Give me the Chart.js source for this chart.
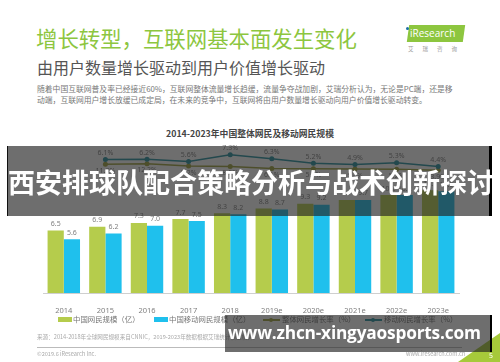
<!DOCTYPE html>
<html>
<head>
<meta charset="utf-8">
<script src="https://cdn.jsdelivr.net/npm/chart.js@4.4.1/dist/chart.umd.min.js"></script>
<style>
  html, body { margin: 0; padding: 0; background: #fff; }
  body { width: 500px; height: 362px; position: relative; overflow: hidden;
         font-family: "Noto Sans CJK SC", "Noto Sans", sans-serif; }
  .abs { position: absolute; white-space: nowrap; }
  #title { left: 36px; top: 25px; font-size: 21.4px; color: #8dc63f; line-height: 26px; }
  #subtitle { left: 37px; top: 57px; font-size: 16px; color: #555; line-height: 20px; }
  .body { left: 37px; font-size: 7.8px; color: #777; line-height: 10px; }
  #logo { left: 408px; top: 25px; width: 56px; height: 17px; background: #8dc63f;
          transform: skewX(-8deg); }
  #logoText { left: 410px; top: 27px; font-family: "Open Sans", sans-serif; font-size: 10px;
              color: #fff; line-height: 13px; }
  #logoDot { left: 406px; top: 27px; width: 3px; height: 3px; border-radius: 2px; background: #1b6fa8; }
  #logoSub { left: 408px; top: 45px; font-size: 5.5px; color: #999; letter-spacing: 9px; }
  #chartTitle { left: 0; width: 500px; top: 127px; text-align: center; font-size: 8.8px;
                font-weight: bold; color: #444; }
  #chartBox { position: absolute; left: 0; top: 133px; width: 500px; height: 182px; }
  .leg { top: 314px; font-size: 7.4px; color: #777; line-height: 10px; }
  .sw { position: absolute; width: 14px; height: 5px; top: 317px; }
  .ln { position: absolute; width: 17px; height: 1.5px; top: 319px; }
  .dot { position: absolute; width: 4px; height: 4px; border-radius: 2px; top: 318px; }
  #source { left: 37px; top: 333px; font-size: 5.6px; color: #aaa; }
  #rule { position: absolute; left: 37px; top: 347px; width: 425px; height: 1px; background: #bbb; }
  #copy { left: 37px; top: 350px; font-size: 5.6px; color: #aaa; }
  #site { left: 406px; top: 350px; font-size: 5.6px; color: #aaa; }
  #band { position: absolute; left: 7px; top: 146px; width: 481px; height: 70px;
          background: rgba(35,35,35,0.66); border-left: 1px solid #111; border-right: 3px solid #000; }
  #bandText { position: absolute; left: 0; width: 485px; top: 19px; text-align: center;
              font-size: 27px; font-weight: bold; color: #fff; line-height: 34px; white-space: nowrap; }
  #url { position: absolute; left: 225px; top: 315px; width: 265px; height: 37px;
         background: rgba(35,35,35,0.66); border-right: 2px solid #000; }
  #urlText { position: absolute; left: 3px; top: 6px; font-family: "Open Sans", sans-serif; white-space: nowrap;
             font-size: 17.3px; font-weight: bold; color: #fff; line-height: 24px; letter-spacing: -0.2px; }
  #tri { position: absolute; left: 458px; top: 333px; width: 0; height: 0;
         border-left: 42px solid transparent; border-bottom: 29px solid #a6c93a; }
  #pg { left: 489px; top: 350px; font-size: 7px; color: #fff; }
</style>
</head>
<body>
<div id="title" class="abs">增长转型，互联网基本面发生变化</div>
<div id="subtitle" class="abs">由用户数量增长驱动到用户价值增长驱动</div>
<div class="abs body" style="top:84px">随着中国互联网普及率已经接近60%，互联网整体流量增长趋缓，流量争夺战加剧，艾瑞分析认为，无论是PC端，还是移</div>
<div class="abs body" style="top:95px">动端，互联网用户增长放缓已成定局，在未来的竞争中，互联网将由用户数量增长驱动向用户价值增长驱动转变。</div>
<div id="logo" class="abs"></div>
<div id="logoDot" class="abs"></div>
<div id="logoText" class="abs">iResearch</div>
<div id="logoSub" class="abs">艾瑞咨询</div>

<div id="chartTitle" class="abs">2014-2023年中国整体网民及移动网民规模</div>
<div id="chartBox"><canvas id="chart"></canvas></div>

<div class="sw" style="left:58px;background:#b5cc4c"></div>
<div class="abs leg" style="left:73px">中国网民规模（亿）</div>
<div class="sw" style="left:154px;background:#1fc0ed"></div>
<div class="abs leg" style="left:169px">中国移动网民规模（亿）</div>
<div class="ln" style="left:263px;background:#9fa23c"></div>
<div class="dot" style="left:269px;background:#9fa23c"></div>
<div class="abs leg" style="left:282px">整体网民增长率（%）</div>
<div class="ln" style="left:365px;background:#23909f"></div>
<div class="dot" style="left:371px;background:#23909f"></div>
<div class="abs leg" style="left:384px">移动网民增长率（%）</div>

<div id="source" class="abs">来源：2014-2018年全球网民规模来自CNNIC，2019-2023年数据根据艾瑞统计模型核算。</div>
<div id="rule"></div>
<div id="copy" class="abs">©2019.6 iResearch Inc.</div>
<div id="site" class="abs">www.iresearch.com.cn</div>
<div id="tri"></div>
<div id="pg" class="abs">5</div>

<div id="band"><div id="bandText">西安排球队配合策略分析与战术创新探讨</div></div>
<div id="url"><div id="urlText">www.zhcn-xingyaosports.com</div></div>

<script>
// categories and values
const years = ['2014', '2015', '2016', '2017', '2018', '2019e', '2020e', '2021e', '2022e', '2023e'];
const netUsers = [6.5, 6.9, 7.3, 7.7, 8.3, 8.8, 9.3, 9.7, 10.2, 10.7];
const mobileUsers = [5.6, 6.2, 7.0, 7.5, 8.2, 8.7, 9.2, 9.7, 10.2, 10.6];
// growth rates (%), no value for the first year
const tealRates = [null, 6.1, 6.2, 5.6, 7.3, 6.3, 5.2, 4.9, 5.3, 4.4];
const oliveRates = [null, 11.3, 12.2, 9.2, 8.5, 6.1, 5.7, 5.4, 5.2, 3.9];

const greenBar = '#b5cc4c';
const blueBar = '#1fc0ed';
const olive = '#9fa23c';
const teal = '#23909f';

// draws value labels above bars and next to line points
const valueLabels = {
  id: 'valueLabels',
  afterDatasetsDraw(chart) {
    const ctx = chart.ctx;
    ctx.save();
    ctx.font = '7px "Noto Sans", sans-serif';
    ctx.fillStyle = '#808080';
    ctx.textAlign = 'center';
    chart.data.datasets.forEach((ds, i) => {
      const meta = chart.getDatasetMeta(i);
      meta.data.forEach((el, j) => {
        const v = ds.data[j];
        if (v == null) return;
        if (ds.type === 'line') {
          const txt = v.toFixed(1) + '%';
          if (ds.labelPos === 'below') {
            ctx.textBaseline = 'top';
            ctx.fillText(txt, el.x, el.y + 3);
          } else {
            ctx.textBaseline = 'bottom';
            ctx.fillText(txt, el.x, el.y - 3);
          }
        } else {
          ctx.textBaseline = 'bottom';
          ctx.fillText(v.toFixed(1), el.x, el.y - 3);
        }
      });
    });
    ctx.restore();
  }
};

new Chart(document.getElementById('chart'), {
  type: 'bar',
  data: {
    labels: years,
    datasets: [
      {
        type: 'line', label: '移动网民增长率（%）', data: tealRates, yAxisID: 'y2',
        borderColor: teal, backgroundColor: teal, borderWidth: 1.5,
        pointRadius: 2.5, pointBackgroundColor: teal, pointBorderWidth: 0,
        labelPos: 'above', order: 0, clip: false
      },
      {
        type: 'line', label: '整体网民增长率（%）', data: oliveRates, yAxisID: 'y3',
        borderColor: olive, backgroundColor: olive, borderWidth: 1.5,
        pointRadius: 2.5, pointBackgroundColor: olive, pointBorderWidth: 0,
        labelPos: 'below', order: 0, clip: false
      },
      {
        label: '中国网民规模（亿）', data: netUsers, backgroundColor: greenBar,
        categoryPercentage: 0.78, barPercentage: 1.0, order: 1
      },
      {
        label: '中国移动网民规模（亿）', data: mobileUsers, backgroundColor: blueBar,
        categoryPercentage: 0.78, barPercentage: 1.0, order: 1
      }
    ]
  },
  options: {
    responsive: true,
    maintainAspectRatio: false,
    animation: false,
    layout: { padding: { left: 43, right: 41, top: 6.4, bottom: 0 } },
    plugins: { legend: { display: false }, tooltip: { enabled: false } },
    scales: {
      x: {
        grid: { display: false },
        border: { display: true, color: '#cfcfcf', width: 1 },
        ticks: { color: '#808080', font: { size: 7.5, family: '"Noto Sans", sans-serif' }, padding: 5 },
        afterFit(s) { s.height = 22; }
      },
      y: { display: false, min: 0, max: 16 },
      y2: { display: false, min: -27.25, max: 11.15 },
      y3: { display: false, min: -149.5, max: 42.5 }
    }
  },
  plugins: [valueLabels]
});
</script>
</body>
</html>
